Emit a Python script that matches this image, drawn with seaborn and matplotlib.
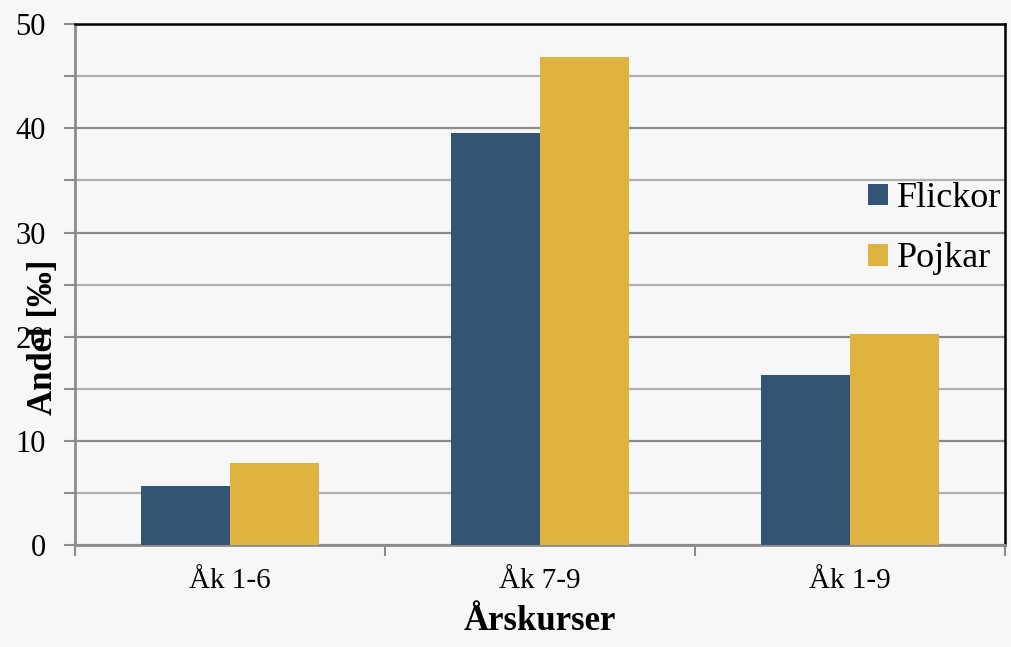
import matplotlib
matplotlib.use("Agg")
import matplotlib.pyplot as plt
import pandas as pd
import seaborn as sns
from matplotlib.ticker import MultipleLocator

# Data
categories = ["Åk 1-6", "Åk 7-9", "Åk 1-9"]
flickor = [5.7, 39.5, 16.3]
pojkar = [7.9, 46.8, 20.3]
series = ["Flickor", "Pojkar"]
colors = ["#335475", "#DFB33F"]

df = pd.DataFrame({
    "Årskurs": categories * 2,
    "Andel": flickor + pojkar,
    "Kön": [series[0]] * 3 + [series[1]] * 3,
})

sns.set_theme(style="white")
plt.rcParams["font.family"] = ["Liberation Serif", "DejaVu Serif"]
plt.rcParams["text.color"] = "black"

bg = "#f7f7f7"
fig, ax = plt.subplots(figsize=(10.12, 6.47), dpi=100)
fig.patch.set_facecolor(bg)
ax.set_facecolor(bg)
fig.subplots_adjust(left=0.074, right=0.993, top=0.963, bottom=0.157)

sns.barplot(data=df, x="Årskurs", y="Andel", hue="Kön", palette=colors,
            width=0.574, gap=0, saturation=1, linewidth=0, ax=ax, zorder=3)

ax.set_ylim(0, 50)
ax.set_xlim(-0.5, 2.5)
ax.yaxis.set_major_locator(MultipleLocator(10))
ax.yaxis.set_minor_locator(MultipleLocator(5))
ax.grid(which="major", axis="y", color="#8c8c8c", linewidth=1.6, zorder=0)
ax.grid(which="minor", axis="y", color="#b0b0b0", linewidth=1.6, zorder=0)
ax.set_axisbelow(True)

# category boundary ticks on the x axis
ax.set_xticks([0, 1, 2])
ax.set_xticklabels(categories)
ax.set_xticks([-0.5, 0.5, 1.5, 2.5], minor=True)
ax.tick_params(axis="x", which="major", length=0, labelsize=21, pad=16,
               labelcolor="black")
ax.tick_params(axis="x", which="minor", length=8, width=1.5, color="#8c8c8c",
               direction="out", bottom=True)
ax.tick_params(axis="y", which="both", length=8, width=1.5, color="#8c8c8c",
               direction="out", left=True, labelsize=22, pad=13,
               labelcolor="black")

for side in ["left", "bottom"]:
    ax.spines[side].set_color("#8c8c8c")
    ax.spines[side].set_linewidth(2)
for side in ["top", "right"]:
    ax.spines[side].set_color("black")
    ax.spines[side].set_linewidth(1.8)
    ax.spines[side].set_visible(True)

ax.set_xlabel("Årskurser", fontsize=25, fontweight="bold", labelpad=8,
              color="black")
ax.set_ylabel("Andel [‰]", fontsize=25, fontweight="bold", color="black")
ax.yaxis.set_label_coords(-0.016, 0.40)

leg = ax.legend(loc="center right", bbox_to_anchor=(1.031, 0.607), frameon=False,
                fontsize=26, handlelength=0.55, handleheight=0.55,
                handletextpad=0.25, labelspacing=0.75)
leg.set_title(None)

fig.savefig("out.png", dpi=100, facecolor=bg)
